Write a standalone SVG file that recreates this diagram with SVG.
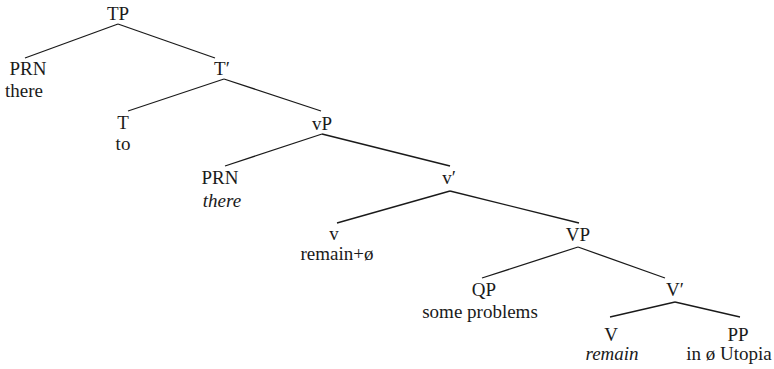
<svg xmlns="http://www.w3.org/2000/svg" width="774" height="369" viewBox="0 0 774 369">
<style>
text{font-family:"Liberation Serif","Times New Roman",serif;font-size:19px;fill:#1a1a1a;text-anchor:middle}
.i{font-style:italic}
#edges line{stroke:#1a1a1a;stroke-width:1.3}
</style>
<rect width="774" height="369" fill="#fff"/>
<g id="edges">
<line x1="118" y1="24" x2="25" y2="58"/>
<line x1="118" y1="24" x2="215" y2="58"/>
<line x1="224" y1="79" x2="128" y2="111"/>
<line x1="224" y1="79" x2="321" y2="111"/>
<line x1="322" y1="134" x2="225" y2="166"/>
<line x1="322" y1="134" x2="450" y2="166"/>
<line x1="450" y1="191" x2="337" y2="223"/>
<line x1="450" y1="191" x2="579" y2="223"/>
<line x1="578" y1="247" x2="482" y2="278"/>
<line x1="578" y1="247" x2="665" y2="278"/>
<line x1="675" y1="302" x2="610" y2="317"/>
<line x1="675" y1="302" x2="740" y2="317"/>
</g>
<g id="TP"><text x="118" y="20">TP</text></g>
<g id="PRN1"><text x="28" y="75">PRN</text><text x="24" y="97">there</text></g>
<g id="Tbar"><text x="222" y="75">T′</text></g>
<g id="T"><text x="123" y="129">T</text><text x="123" y="150">to</text></g>
<g id="vP"><text x="322" y="130">vP</text></g>
<g id="PRN2"><text x="220" y="184">PRN</text><text class="i" x="222" y="207">there</text></g>
<g id="vbar"><text x="449" y="184">v′</text></g>
<g id="v"><text x="334" y="240">v</text><text x="337" y="260">remain+ø</text></g>
<g id="VP"><text x="578" y="241">VP</text></g>
<g id="QP"><text x="484" y="296">QP</text><text x="480" y="318">some problems</text></g>
<g id="Vbar"><text x="675" y="296">V′</text></g>
<g id="V"><text x="611" y="341">V</text><text class="i" x="612" y="360">remain</text></g>
<g id="PP"><text x="738" y="341">PP</text><text x="729" y="360">in ø Utopia</text></g>
</svg>
